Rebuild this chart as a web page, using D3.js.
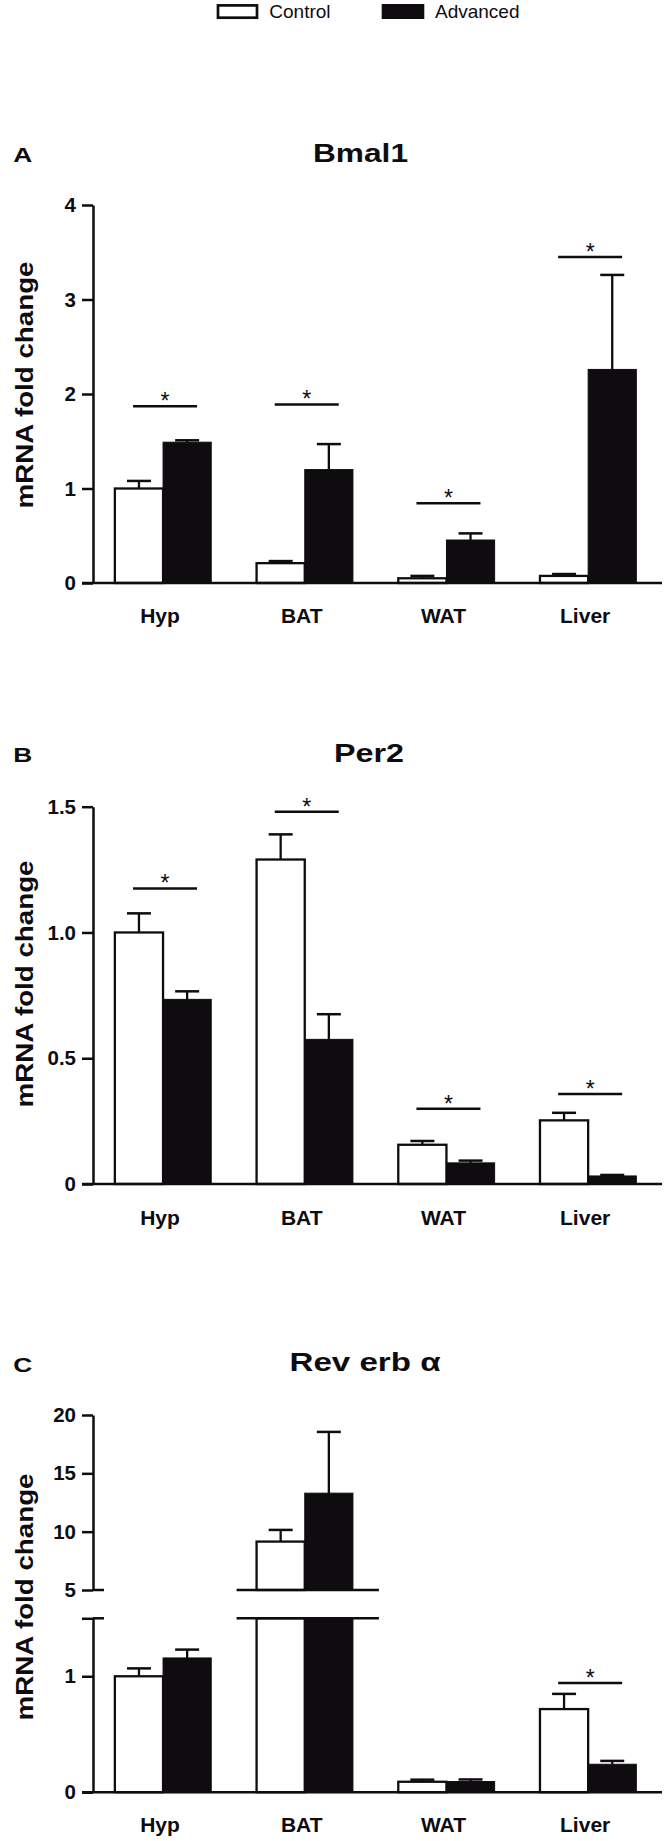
<!DOCTYPE html>
<html>
<head>
<meta charset="utf-8">
<script src="https://cdn.jsdelivr.net/npm/d3@7"></script>
<style>
  body { margin: 0; background: #fff; }
  svg { display: block; }
</style>
</head>
<body>
<script>
// data
const categories = ['Hyp', 'BAT', 'WAT', 'Liver'];
const groups = ['Control', 'Advanced'];

// Bmal1
const bmal1Control = [1.00, 0.21, 0.05, 0.075];
const bmal1ControlErr = [0.08, 0.022, 0.025, 0.02];
const bmal1Advanced = [1.49, 1.20, 0.455, 2.26];
const bmal1AdvancedErr = [0.02, 0.27, 0.07, 1.0];
const bmal1Sig = [1.87, 1.89, 0.845, 3.45];
const bmal1Ticks = [0, 1, 2, 3, 4];

// Per2
const per2Control = [1.00, 1.29, 0.156, 0.253];
const per2ControlErr = [0.076, 0.10, 0.015, 0.03];
const per2Advanced = [0.734, 0.575, 0.084, 0.032];
const per2AdvancedErr = [0.032, 0.10, 0.009, 0.004];
const per2Sig = [1.175, 1.48, 0.299, 0.358];
const per2Ticks = [0, 0.5, 1.0, 1.5];

// Rev erb alpha (broken axis)
const revControl = [1.00, 9.15, 0.09, 0.717];
const revControlErr = [0.068, 1.0, 0.018, 0.131];
const revAdvanced = [1.158, 13.3, 0.092, 0.241];
const revAdvancedErr = [0.072, 5.25, 0.018, 0.029];
const revSig = [null, null, null, 0.942];
const revLowTicks = [0, 1, 1.5];
const revHighTicks = [5, 10, 15, 20];

const svgWidth = 666;
const svgHeight = 1841;
const font = '"Liberation Sans", Arial, Helvetica, sans-serif';
const ink = '#0e0c0f';
const axisX = 93;

const svg = d3.select('body')
    .append('svg')
    .attr('width', svgWidth)
    .attr('height', svgHeight);

svg.append('rect')
    .attr('width', svgWidth)
    .attr('height', svgHeight)
    .attr('fill', '#fff');

// legend
const legend = svg.append('g');
legend.append('rect')
    .attr('x', 218).attr('y', 5.4).attr('width', 39).attr('height', 12.3)
    .attr('fill', '#fff').attr('stroke', ink).attr('stroke-width', 2.7);
legend.append('text')
    .attr('x', 269.3).attr('y', 18.3)
    .attr('font-family', font).attr('font-size', 19).attr('fill', ink)
    .text(groups[0]);
legend.append('rect')
    .attr('x', 381.7).attr('y', 4).attr('width', 42.6).attr('height', 15)
    .attr('fill', ink);
legend.append('text')
    .attr('x', 435).attr('y', 18.3)
    .attr('font-family', font).attr('font-size', 19).attr('fill', ink)
    .text(groups[1]);

const x0 = d3.scaleBand()
    .domain(categories)
    .range([92.2, 659])
    .paddingInner(0.32)
    .paddingOuter(0.16);

const x1 = d3.scaleBand()
    .domain(groups)
    .range([0, x0.bandwidth()]);

const panels = [
    {
        letter: 'A', letterY: 161.7,
        title: 'Bmal1', titleX: 360.5, titleY: 161.7, titleLen: 95,
        labelY: 385, catY: 623,
        control: bmal1Control, controlErr: bmal1ControlErr,
        advanced: bmal1Advanced, advancedErr: bmal1AdvancedErr,
        sig: bmal1Sig,
        segments: [{ domain: [0, 4], range: [583, 205], ticks: bmal1Ticks, fmt: d => d }]
    },
    {
        letter: 'B', letterY: 761.7,
        title: 'Per2', titleX: 369, titleY: 761.7, titleLen: 70,
        labelY: 984, catY: 1225,
        control: per2Control, controlErr: per2ControlErr,
        advanced: per2Advanced, advancedErr: per2AdvancedErr,
        sig: per2Sig,
        segments: [{ domain: [0, 1.5], range: [1184, 806.7], ticks: per2Ticks,
            fmt: d => d === 0 ? '0' : d3.format('.1f')(d) }]
    },
    {
        letter: 'C', letterY: 1371.5,
        title: 'Rev erb α', titleX: 365, titleY: 1371, titleLen: 151,
        labelY: 1597, catY: 1832,
        control: revControl, controlErr: revControlErr,
        advanced: revAdvanced, advancedErr: revAdvancedErr,
        sig: revSig,
        segments: [
            { domain: [0, 1.5], range: [1792.2, 1618.3], ticks: revLowTicks,
                fmt: d => d === 1.5 ? '' : d },
            { domain: [5, 20], range: [1590, 1415], ticks: revHighTicks, fmt: d => d }
        ]
    }
];

panels.forEach(p => {
    const g = svg.append('g');

    // panel letter and title
    g.append('text')
        .attr('x', 13.3).attr('y', p.letterY)
        .attr('font-family', font).attr('font-weight', 'bold').attr('font-size', 21)
        .attr('textLength', 19).attr('lengthAdjust', 'spacingAndGlyphs')
        .attr('fill', ink)
        .text(p.letter);

    g.append('text')
        .attr('x', p.titleX).attr('y', p.titleY)
        .attr('text-anchor', 'middle')
        .attr('font-family', font).attr('font-weight', 'bold').attr('font-size', 25.5)
        .attr('textLength', p.titleLen).attr('lengthAdjust', 'spacingAndGlyphs')
        .attr('fill', ink)
        .text(p.title);

    // y axis label
    g.append('text')
        .attr('transform', `translate(33.3, ${p.labelY}) rotate(-90)`)
        .attr('text-anchor', 'middle')
        .attr('font-family', font).attr('font-weight', 'bold').attr('font-size', 23.5)
        .attr('textLength', 247).attr('lengthAdjust', 'spacingAndGlyphs')
        .attr('fill', ink)
        .text('mRNA fold change');

    const rows = categories.map((c, i) => ({
        cat: c,
        sig: p.sig[i],
        values: [
            { key: groups[0], v: p.control[i], e: p.controlErr[i] },
            { key: groups[1], v: p.advanced[i], e: p.advancedErr[i] }
        ]
    }));

    const yZero = p.segments[0].range[0];

    p.segments.forEach(s => {
        const y = d3.scaleLinear().domain(s.domain).range(s.range);

        // axis
        const axis = g.append('g')
            .attr('transform', `translate(${axisX}, 0)`)
            .call(d3.axisLeft(y)
                .tickValues(s.ticks)
                .tickSize(11)
                .tickSizeOuter(0)
                .tickPadding(6)
                .tickFormat(s.fmt));
        axis.select('.domain').attr('stroke', ink).attr('stroke-width', 2.5);
        axis.selectAll('.tick line').attr('stroke', ink).attr('stroke-width', 2.5);
        axis.selectAll('.tick text')
            .attr('font-family', font).attr('font-weight', 'bold').attr('font-size', 20.5)
            .attr('fill', ink);

        // bars, clipped to this segment
        rows.forEach(r => {
            const gx = x0(r.cat);
            r.values.forEach(d => {
                if (d.v <= s.domain[0]) return;
                const top = y(Math.min(d.v, s.domain[1]));
                const bottom = y(s.domain[0]);
                const white = d.key === groups[0];
                g.append('rect')
                    .attr('x', gx + x1(d.key))
                    .attr('y', top)
                    .attr('width', x1.bandwidth())
                    .attr('height', bottom - top)
                    .attr('fill', white ? '#fff' : ink)
                    .attr('stroke', ink)
                    .attr('stroke-width', white ? 2.3 : 1);
            });
        });

        // error bars (upper half only)
        rows.forEach(r => {
            const gx = x0(r.cat);
            r.values.forEach(d => {
                if (d.v < s.domain[0] || d.v > s.domain[1]) return;
                const cx = gx + x1(d.key) + x1.bandwidth() / 2;
                const yt = y(d.v + d.e);
                g.append('line')
                    .attr('x1', cx).attr('x2', cx)
                    .attr('y1', y(d.v)).attr('y2', yt)
                    .attr('stroke', ink).attr('stroke-width', 2.3);
                g.append('line')
                    .attr('x1', cx - 12).attr('x2', cx + 12)
                    .attr('y1', yt).attr('y2', yt)
                    .attr('stroke', ink).attr('stroke-width', 2.5);
            });
        });

        // significance lines
        rows.forEach(r => {
            if (r.sig == null || r.sig < s.domain[0] || r.sig > s.domain[1]) return;
            const cx = x0(r.cat) + x0.bandwidth() / 2 + 2;
            const ys = y(r.sig);
            g.append('line')
                .attr('x1', cx - 32).attr('x2', cx + 32)
                .attr('y1', ys).attr('y2', ys)
                .attr('stroke', ink).attr('stroke-width', 2.5);
            g.append('text')
                .attr('x', cx).attr('y', ys + 3)
                .attr('text-anchor', 'middle')
                .attr('font-family', font).attr('font-size', 23)
                .attr('fill', ink)
                .text('*');
        });
    });

    // break marks for a split axis
    if (p.segments.length > 1) {
        const low = p.segments[0];
        const high = p.segments[1];
        const breaks = [low.range[1], high.range[0]];
        breaks.forEach(by => {
            g.append('line')
                .attr('x1', axisX).attr('x2', axisX + 11)
                .attr('y1', by).attr('y2', by)
                .attr('stroke', ink).attr('stroke-width', 2.5);
        });
        rows.filter(r => r.values.some(d => d.v > low.domain[1])).forEach(r => {
            const gx = x0(r.cat);
            breaks.forEach(by => {
                g.append('line')
                    .attr('x1', gx - 20).attr('x2', gx + x0.bandwidth() + 26)
                    .attr('y1', by).attr('y2', by)
                    .attr('stroke', ink).attr('stroke-width', 2.5);
            });
        });
    }

    // x axis line
    g.append('line')
        .attr('x1', axisX - 11).attr('x2', 662)
        .attr('y1', yZero).attr('y2', yZero)
        .attr('stroke', ink).attr('stroke-width', 2.5);

    // category labels
    g.selectAll('.cat')
        .data(categories)
        .enter()
        .append('text')
        .attr('x', d => x0(d) + x0.bandwidth() / 2 - 3)
        .attr('y', p.catY)
        .attr('text-anchor', 'middle')
        .attr('font-family', font).attr('font-weight', 'bold').attr('font-size', 21)
        .attr('fill', ink)
        .text(d => d);
});
</script>
</body>
</html>
